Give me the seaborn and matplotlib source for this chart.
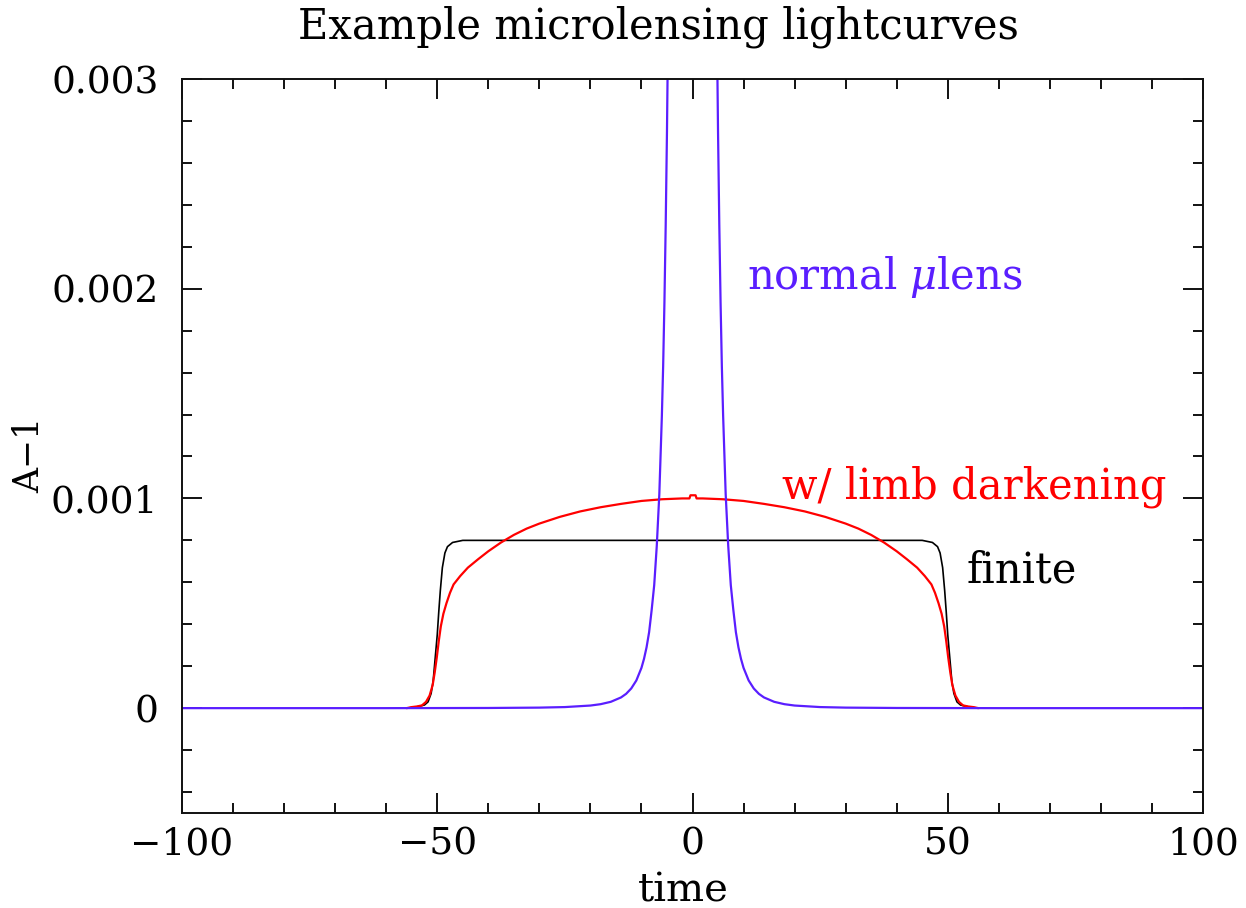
import matplotlib
matplotlib.use("Agg")
import matplotlib.pyplot as plt
import seaborn as sns
import pandas as pd
from matplotlib.ticker import MultipleLocator, FixedLocator, FixedFormatter

# ---------------- data ----------------
# normal (point-source) microlensing curve
time_point = [-100, -60, -40, -30, -25, -20, -18, -16, -14, -13, -12, -11, -10, -9.5, -9,
              -8.5, -8, -7.5, -7, -6.5, -6, -5.75, -5.5, -5.25, -5, -4.8, -4.6,
              4.6, 4.8, 5, 5.25, 5.5, 5.75, 6, 6.5, 7, 7.5, 8, 8.5, 9, 9.5, 10,
              11, 12, 13, 14, 16, 18, 20, 25, 30, 40, 60, 100]
amp_point = [0.0, 0.0, 0.0000008, 0.0000025, 0.0000051, 0.0000124, 0.0000189, 0.0000302,
             0.0000511, 0.0000683, 0.0000938, 0.000132, 0.000192, 0.000235, 0.00029,
             0.000362, 0.000468, 0.000587, 0.000773, 0.00102, 0.001394, 0.00163,
             0.001933, 0.002303, 0.00275, 0.0032, 0.00375,
             0.00375, 0.0032, 0.00275, 0.002303, 0.001933, 0.00163, 0.001394, 0.00102,
             0.000773, 0.000587, 0.000468, 0.000362, 0.00029, 0.000235, 0.000192,
             0.000132, 0.0000938, 0.0000683, 0.0000511, 0.0000302, 0.0000189,
             0.0000124, 0.0000051, 0.0000025, 0.0000008, 0.0, 0.0]

# finite (uniform) source curve
time_finite = [-56, -54, -52.5, -51.8, -51.2, -50.8, -50.4, -50.0, -49.7, -49.4, -49.0,
               -48.5, -48.0, -47.0, -45.0, 0, 45.0, 47.0, 48.0, 48.5, 49.0, 49.4, 49.7,
               50.0, 50.4, 50.8, 51.2, 51.8, 52.5, 54, 56]
amp_finite = [0.0, 0.000006, 0.000015, 0.00003, 0.00007, 0.00013, 0.00024, 0.00035,
              0.00046, 0.00056, 0.00067, 0.00074, 0.00077, 0.00079, 0.0008, 0.0008,
              0.0008, 0.00079, 0.00077, 0.00074, 0.00067, 0.00056, 0.00046, 0.00035,
              0.00024, 0.00013, 0.00007, 0.00003, 0.000015, 0.000006, 0.0]

# limb-darkened source curve
time_limb = [-56, -55, -54, -53, -52.2, -51.5, -50.9, -50.5, -50.1, -49.7, -49.3, -48.8,
             -48.2, -47.5, -46.8, -45.5, -44, -42, -40, -37.5, -35, -32.5, -30, -26,
             -22, -18, -14, -10, -6, -2, -0.6, -0.4, 0.6, 0.8, 2, 6, 10, 14, 18, 22, 26,
             30, 32.5, 35, 37.5, 40, 42, 44, 45.5, 46.8, 47.5, 48.2, 48.8, 49.3, 49.7,
             50.1, 50.5, 50.9, 51.5, 52.2, 53, 54, 55, 56]
amp_limb = [0.0, 0.000005, 0.000008, 0.000013, 0.00003, 0.00006, 0.00011, 0.00017,
            0.00024, 0.00032, 0.00039, 0.00045, 0.0005, 0.00055, 0.00059, 0.00063,
            0.00067, 0.00071, 0.000748, 0.00079, 0.000826, 0.000856, 0.00088, 0.000912,
            0.000938, 0.000958, 0.000974, 0.000988, 0.000996, 0.001, 0.001, 0.001015,
            0.001015, 0.001, 0.001, 0.000996, 0.000988, 0.000974, 0.000958, 0.000938,
            0.000912, 0.00088, 0.000856, 0.000826, 0.00079, 0.000748, 0.00071, 0.00067,
            0.00063, 0.00059, 0.00055, 0.0005, 0.00045, 0.00039, 0.00032, 0.00024,
            0.00017, 0.00011, 0.00006, 0.00003, 0.000013, 0.000008, 0.000005, 0.0]

x_major = [-100, -50, 0, 50, 100]
x_major_labels = ["\u2212100", "\u221250", "0", "50", "100"]
y_major = [0, 0.001, 0.002, 0.003]
y_major_labels = ["0", "0.001", "0.002", "0.003"]

title_text = "Example microlensing lightcurves"
xlabel_text = "time"
ylabel_text = "A\u22121"

BLUE = "#5a1eff"

# ---------------- plot ----------------
sns.set_theme(style="ticks")
plt.rcParams["font.family"] = ["DejaVu Serif"]
plt.rcParams["mathtext.fontset"] = "dejavuserif"
plt.rcParams["text.color"] = "black"

fig = plt.figure(figsize=(12.46, 9.08), dpi=100)
ax = fig.add_axes([182 / 1246, 1 - 813 / 908, (1203 - 182) / 1246, (813 - 79) / 908])

df_f = pd.DataFrame({"t": time_finite, "a": amp_finite})
df_l = pd.DataFrame({"t": time_limb, "a": amp_limb})
df_p = pd.DataFrame({"t": time_point, "a": amp_point})

sns.lineplot(data=df_f, x="t", y="a", ax=ax, color="black", linewidth=1.2,
             sort=False, estimator=None)
sns.lineplot(data=df_l, x="t", y="a", ax=ax, color="red", linewidth=1.6,
             sort=False, estimator=None)
sns.lineplot(data=df_p, x="t", y="a", ax=ax, color=BLUE, linewidth=1.6,
             sort=False, estimator=None)

ax.set_xlim(-100, 100)
ax.set_ylim(-0.0005, 0.003)
ax.xaxis.set_major_locator(FixedLocator(x_major))
ax.xaxis.set_major_formatter(FixedFormatter(x_major_labels))
ax.xaxis.set_minor_locator(MultipleLocator(10))
ax.yaxis.set_major_locator(FixedLocator(y_major))
ax.yaxis.set_major_formatter(FixedFormatter(y_major_labels))
ax.yaxis.set_minor_locator(MultipleLocator(0.0002))

ax.tick_params(which="both", direction="in", top=True, right=True,
               colors="#111111", width=1.4, labelcolor="black")
ax.tick_params(which="major", length=14.4)
ax.tick_params(which="minor", length=7.2)
ax.tick_params(axis="x", which="major", labelsize=27, pad=10)
ax.tick_params(axis="y", which="major", labelsize=27, pad=17)
for s in ax.spines.values():
    s.set_linewidth(1.4)
    s.set_color("#111111")

ax.set_xlabel("")
ax.set_ylabel("")

ax.text(10.7, 0.002, r"normal $\mu$lens", color=BLUE, fontsize=30,
        ha="left", va="baseline")
ax.text(17.5, 0.001, "w/ limb darkening", color="red", fontsize=30,
        ha="left", va="baseline")
ax.text(53.7, 0.0006, "finite", color="black", fontsize=30,
        ha="left", va="baseline")

fig.text(658 / 1246, 1 - 38 / 908, title_text, fontsize=30, ha="center",
         va="baseline", color="black")
fig.text(683 / 1246, 1 - 902 / 908, xlabel_text, fontsize=29, ha="center",
         va="baseline", color="black")
fig.text(29 / 1246, 1 - 455 / 908, ylabel_text, fontsize=25, ha="center",
         va="center", rotation=90, color="black")

fig.savefig("out.png", dpi=100)
